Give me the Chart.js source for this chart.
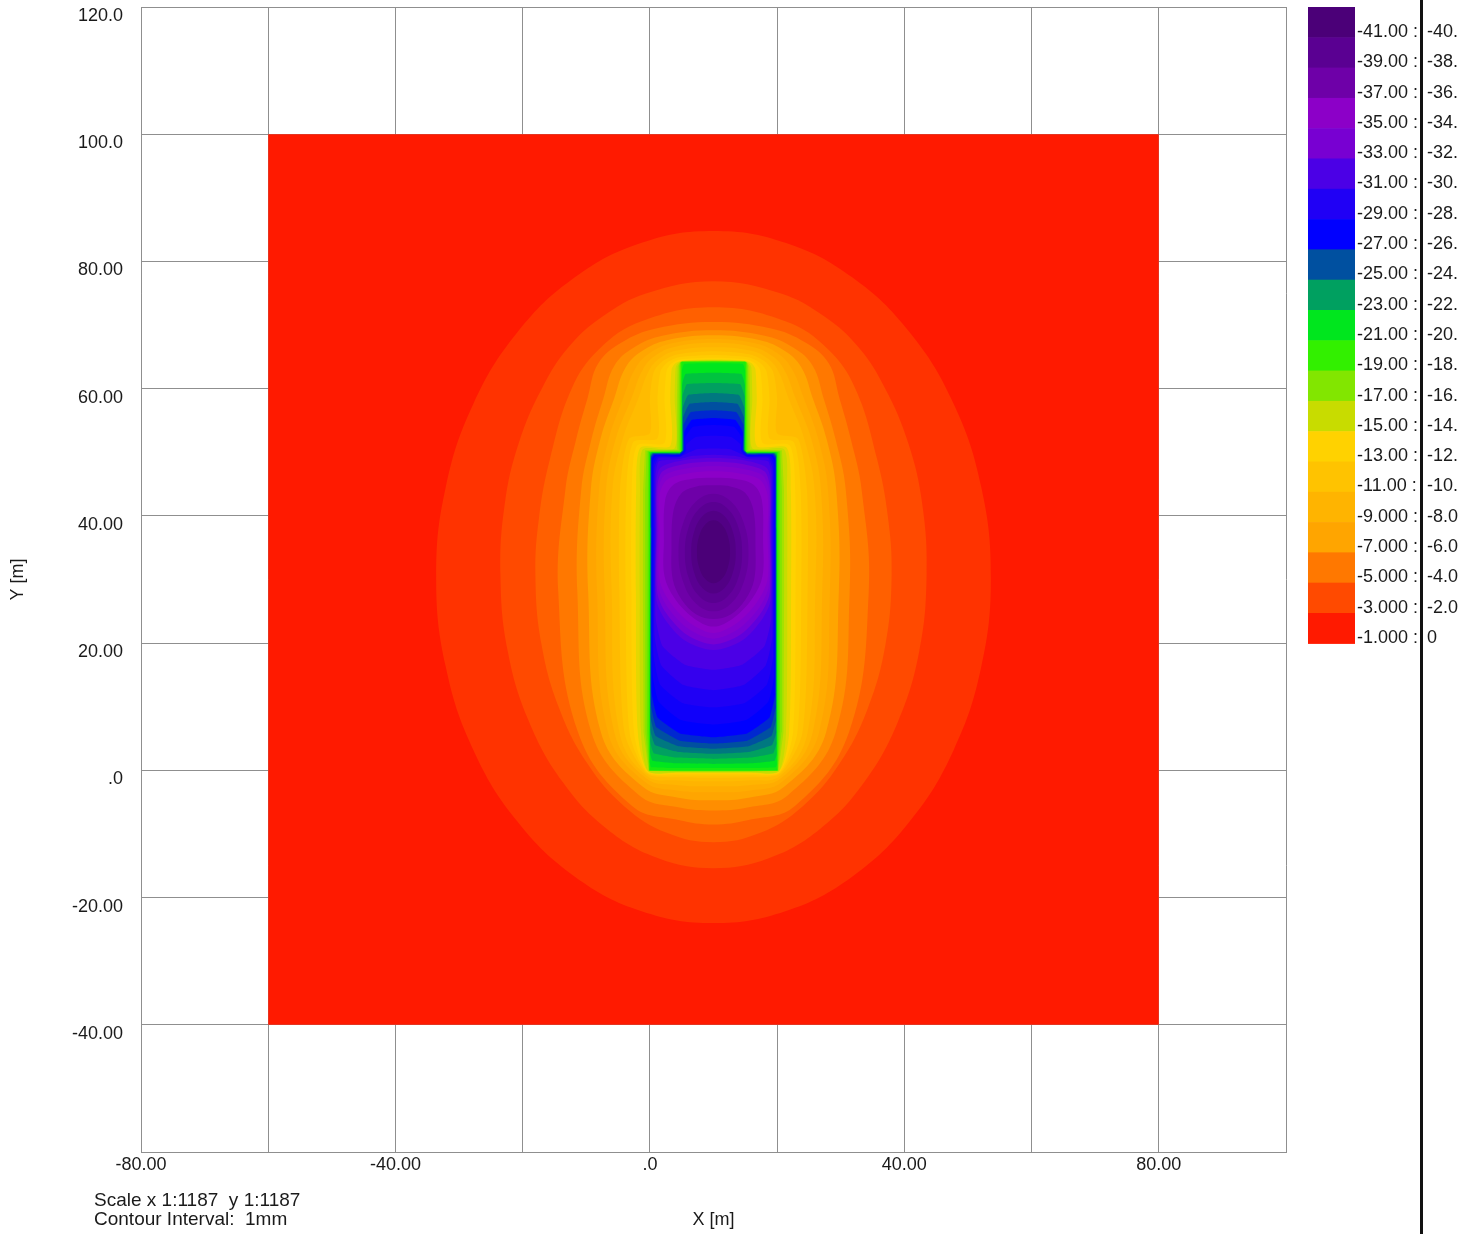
<!DOCTYPE html>
<html><head><meta charset="utf-8">
<script src="https://cdn.jsdelivr.net/npm/chart.js@4/dist/chart.umd.min.js"></script>
<style>html,body{margin:0;padding:0;background:#fff;overflow:hidden}canvas{display:block}</style>
</head><body>
<canvas id="c" width="1458" height="1234"></canvas>
<script>
// ---- axes ----
const xTickValues = [-80,-60,-40,-20,0,20,40,60,80,100];
const xTickLabels = ['-80.00','','-40.00','','.0','','40.00','','80.00',''];
const yTickValues = [-60,-40,-20,0,20,40,60,80,100,120];
const yTickLabels = ['','-40.00','-20.00','.0','20.00','40.00','60.00','80.00','100.0','120.0'];

// ---- colour bands (band k = values between -(k-1) and -k mm) ----
const bandColors = ['#FF1A00','#FF3300','#FF4A00','#FF6000','#FF7800','#FF8E00','#FFA500','#FFAC00','#FFB400','#FFBB00',
  '#FFC300','#FFCB00','#FFD200','#E4D700','#C8DC00','#A5E100','#82E600','#5AEB00','#32F000','#19EB0F',
  '#00E61E','#00C33F','#00A060','#007880','#0050A0','#0028D0','#0000FF','#1000FA','#2000F5','#3500EE',
  '#4B00E6','#6000DC','#7800D2','#8200CD','#8C00C8','#7D00B8','#6E00A8','#64009D','#5A0092','#520085','#4B0078'];

// ---- legend ----
const legendColors = ['#4B0078','#5A0092','#6E00A8','#8C00C8','#7800D2','#4B00E6','#2000F5','#0000FF','#0050A0','#00A060',
  '#00E61E','#32F000','#82E600','#C8DC00','#FFD200','#FFC300','#FFB400','#FFA500','#FF7800','#FF4A00','#FF1A00'];
const legendLow = ['-41.00','-39.00','-37.00','-35.00','-33.00','-31.00','-29.00','-27.00','-25.00','-23.00',
  '-21.00','-19.00','-17.00','-15.00','-13.00','-11.00','-9.000','-7.000','-5.000','-3.000','-1.000'];
const legendHigh = ['-40.00','-38.00','-36.00','-34.00','-32.00','-30.00','-28.00','-26.00','-24.00','-22.00',
  '-20.00','-18.00','-16.00','-14.00','-12.00','-10.00','-8.000','-6.000','-4.000','-2.000','0'];
const noteLines = ['Scale x 1:1187  y 1:1187','Contour Interval:  1mm'];

// ---- model domain ----
const domain = [[-60,-40],[80,-40],[80,100],[-60,100],[-60,-40]];

// ---- contour lines (x, y in m), level -1 ... -40 mm ----
const contour_01 = [[53.6,30.4],[52.1,44.49],[47.76,57.6],[40.83,68.86],[31.8,77.51],[21.29,82.95],[10,84.8],[-1.29,82.95],[-11.8,77.51],[-20.83,68.86],[-27.76,57.6],[-32.1,44.49],[-33.6,30.4],[-32.1,16.31],[-27.76,3.2],[-20.83,-8.06],[-11.8,-16.71],[-1.29,-22.15],[10,-24.0],[21.29,-22.15],[31.8,-16.71],[40.83,-8.06],[47.76,3.2],[52.1,16.31],[53.6,30.4]];
const contour_02 = [[43.5,30.75],[42.8,42],[40.6,51.5],[37.0,60],[32.8,66.5],[27.5,71.3],[20.5,75.0],[10,76.9],[-0.5,75.0],[-7.5,71.3],[-12.8,66.5],[-17.0,60],[-20.6,51.5],[-22.8,42],[-23.5,30.75],[-22.36,18.8],[-19.01,7.67],[-13.68,-1.88],[-6.75,-9.22],[1.32,-13.83],[10,-15.4],[18.68,-13.83],[26.75,-9.22],[33.68,-1.88],[39.01,7.67],[42.36,18.8],[43.5,30.75]];
const contour_03 = [[38.0,30.75],[37.4,40],[35.7,49],[32.3,60],[28.0,66.2],[21.3,70.6],[10,72.8],[-1.3,70.6],[-8.0,66.2],[-12.3,60],[-15.7,49],[-17.4,40],[-18.0,30.75],[-17.05,19.86],[-14.25,9.72],[-9.8,1.02],[-4.0,-5.67],[2.75,-9.87],[10,-11.3],[17.25,-9.87],[24.0,-5.67],[29.8,1.02],[34.25,9.72],[37.05,19.86],[38.0,30.75]];
const contour_04 = [[34.4,28],[33.3,44],[31.6,52],[29.8,58.5],[28.11,63.98],[24.45,67.26],[19.05,69.47],[10,70.5],[0.95,69.47],[-4.45,67.26],[-8.11,63.98],[-9.8,58.5],[-11.6,52],[-13.3,44],[-14.4,28],[-11.3,6],[-2.8,-5.6],[4.5,-7.8],[10,-8.5],[15.5,-7.8],[22.8,-5.6],[31.3,6],[34.4,28]];
const contour_05 = [[31.4,28],[30.8,44],[29.2,52],[27.3,58.5],[25.61,63.56],[22.58,66.42],[18.04,68.32],[10,69.2],[1.96,68.32],[-2.58,66.42],[-5.61,63.56],[-7.3,58.5],[-9.2,52],[-10.8,44],[-11.4,28],[-9.2,6],[-1.7,-3.9],[4.5,-5.8],[10,-6.3],[15.5,-5.8],[21.7,-3.9],[29.2,6],[31.4,28]];
const contour_06 = [[29.7,28],[29.3,44],[27.8,52],[25.6,58.5],[23.82,63.33],[21.23,65.92],[17.32,67.62],[10,68.4],[2.68,67.62],[-1.23,65.92],[-3.82,63.33],[-5.6,58.5],[-7.8,52],[-9.3,44],[-9.7,28],[-7.7,6],[-1.1,-2.6],[4.5,-4.3],[10,-4.7],[15.5,-4.3],[21.1,-2.6],[27.7,6],[29.7,28]];
const contour_07 = [[28.3,28],[28.0,44],[26.5,52],[24.2,58.5],[22.29,63.17],[20.08,65.55],[16.68,67.09],[10,67.8],[3.32,67.09],[-0.08,65.55],[-2.29,63.17],[-4.2,58.5],[-6.5,52],[-8.0,44],[-8.3,28],[-6.6,6],[-0.8,-1.8],[4.5,-3.2],[10,-3.45],[15.5,-3.2],[20.8,-1.8],[26.6,6],[28.3,28]];
const contour_08 = [[27.1,28],[26.9,44],[25.4,52],[22.9,58.5],[21.12,62.99],[19.19,65.16],[16.19,66.56],[10,67.2],[3.81,66.56],[0.81,65.16],[-1.12,62.99],[-2.9,58.5],[-5.4,52],[-6.9,44],[-7.1,28],[-5.6,6],[-0.6,-1.25],[4.5,-2.33],[10,-2.5],[15.5,-2.33],[20.6,-1.25],[25.6,6],[27.1,28]];
const contour_09 = [[26.0,28],[25.9,44],[24.3,52],[21.8,58.5],[20.16,62.83],[18.51,64.75],[15.90,65.96],[10,66.5],[4.10,65.96],[1.49,64.75],[-0.16,62.83],[-1.8,58.5],[-4.3,52],[-5.9,44],[-6.0,28],[-4.8,6],[-0.5,-0.85],[4.5,-1.6],[10,-1.7],[15.5,-1.6],[20.5,-0.85],[24.8,6],[26.0,28]];
const contour_10 = [[24.8,28],[24.7,44],[23.3,52.1],[20.0,53.0],[20.0,58.5],[19.37,62.67],[17.94,64.38],[15.63,65.43],[10,65.9],[4.37,65.43],[2.06,64.38],[0.63,62.67],[0.0,58.5],[0.0,53.0],[-3.3,52.1],[-4.7,44],[-4.8,28],[-4.0,6],[-0.45,-0.55],[4.5,-1.1],[10,-1.15],[15.5,-1.1],[20.45,-0.55],[24.0,6],[24.8,28]];
const contour_11 = [[23.8,28],[23.7,44],[22.6,51.6],[18.8,52.2],[18.8,58.5],[18.33,62.72],[17.26,64.11],[15.46,64.94],[10,65.3],[4.54,64.94],[2.74,64.11],[1.67,62.72],[1.2,58.5],[1.2,52.2],[-2.6,51.6],[-3.7,44],[-3.8,28],[-3.2,6],[-0.4,-0.38],[4.5,-0.77],[10,-0.8],[15.5,-0.77],[20.4,-0.38],[23.2,6],[23.8,28]];
const contour_12 = [[22.9,28],[22.85,44],[22.0,51.05],[17.7,51.5],[17.7,58.5],[17.37,62.83],[16.60,63.94],[15.25,64.58],[10,64.85],[4.75,64.58],[3.40,63.94],[2.63,62.83],[2.3,58.5],[2.3,51.5],[-2.0,51.05],[-2.85,44],[-2.9,28],[-2.5,6],[-0.35,-0.26],[4.5,-0.53],[10,-0.55],[15.5,-0.53],[20.35,-0.26],[22.5,6],[22.9,28]];
const contour_13 = [[22.2,28],[22.15,44],[21.5,50.7],[16.8,51.0],[16.8,58.5],[16.58,63.08],[16.06,63.93],[15.10,64.40],[10,64.6],[4.90,64.40],[3.94,63.93],[3.42,63.08],[3.2,58.5],[3.2,51.0],[-1.5,50.7],[-2.15,44],[-2.2,28],[-1.9,6],[-0.3,-0.19],[4.5,-0.39],[10,-0.4],[15.5,-0.39],[20.3,-0.19],[21.9,6],[22.2,28]];
const contour_14 = [[21.6,28],[21.55,44],[21.1,50.46],[16.1,50.65],[16.1,58.5],[15.95,63.34],[15.59,64.0],[14.92,64.35],[10,64.5],[5.08,64.35],[4.41,64.0],[4.05,63.34],[3.9,58.5],[3.9,50.65],[-1.1,50.46],[-1.55,44],[-1.6,28],[-1.4,6],[-0.25,-0.14],[4.5,-0.29],[10,-0.3],[15.5,-0.29],[20.25,-0.14],[21.4,6],[21.6,28]];
const contour_15 = [[21.1,28],[21.08,44],[20.76,50.32],[15.75,50.45],[15.75,58.5],[15.64,63.48],[15.36,64.02],[14.84,64.30],[10,64.42],[5.16,64.30],[4.64,64.02],[4.36,63.48],[4.25,58.5],[4.25,50.45],[-0.76,50.32],[-1.08,44],[-1.1,28],[-1.0,6],[-0.2,-0.1],[4.5,-0.21],[10,-0.22],[15.5,-0.21],[20.2,-0.1],[21.0,6],[21.1,28]];
const contour_16 = [[20.75,28],[20.74,44],[20.52,50.21],[15.5,50.3],[15.5,58.5],[15.42,63.57],[15.24,64.07],[14.86,64.27],[10,64.35],[5.14,64.27],[4.76,64.07],[4.58,63.57],[4.5,58.5],[4.5,50.3],[-0.52,50.21],[-0.74,44],[-0.75,28],[-0.68,6],[-0.15,-0.07],[4.5,-0.145],[10,-0.15],[15.5,-0.145],[20.15,-0.07],[20.68,6],[20.75,28]];
const contour_17 = [[20.45,28],[20.44,44],[20.31,50.13],[15.3,50.18],[15.3,58.5],[15.27,63.97],[15.18,64.16],[15.0,64.25],[10,64.29],[5.0,64.25],[4.82,64.16],[4.73,63.97],[4.7,58.5],[4.7,50.18],[-0.31,50.13],[-0.44,44],[-0.45,28],[-0.41,6],[-0.1,-0.04],[4.5,-0.087],[10,-0.09],[15.5,-0.087],[20.1,-0.04],[20.41,6],[20.45,28]];
const contour_18 = [[20.2,28],[20.2,44],[20.14,50.06],[15.13,50.08],[15.13,58.5],[15.12,64.1],[15.08,64.18],[15.01,64.22],[10,64.24],[4.99,64.22],[4.92,64.18],[4.88,64.1],[4.87,58.5],[4.87,50.08],[-0.14,50.06],[-0.2,44],[-0.2,28],[-0.18,6],[-0.05,-0.02],[4.5,-0.039],[10,-0.04],[15.5,-0.039],[20.05,-0.02],[20.18,6],[20.2,28]];
const contour_19 = [[20.03,28],[20.03,44],[20.02,50.01],[15.02,50.02],[15.02,58.5],[15.01,64.21],[10,64.22],[4.99,64.21],[4.98,58.5],[4.98,50.02],[-0.02,50.01],[-0.03,44],[-0.03,28],[-0.02,6],[-0.01,-0.005],[4.5,-0.01],[10,-0.01],[15.5,-0.01],[20.01,-0.005],[20.02,6],[20.03,28]];
const contour_20 = [[19.97,38],[19.97,49.8],[19.8,49.97],[15.1,49.97],[14.97,50.2],[14.97,62.8],[14.6,63.9],[10,64.0],[5.4,63.9],[5.03,62.8],[5.03,50.2],[4.9,49.97],[0.2,49.97],[0.03,49.8],[0.03,38],[0.03,1.0],[0.2,0.5],[4,0.37],[10,0.35],[16,0.37],[19.8,0.5],[19.97,1.0],[19.97,38]];
const contour_21 = [[19.94,38],[19.94,49.7],[19.7,49.93],[15.2,49.93],[14.93,50.3],[14.93,60.6],[14.4,62.3],[10,62.5],[5.6,62.3],[5.07,60.6],[5.07,50.3],[4.8,49.93],[0.3,49.93],[0.06,49.7],[0.06,38],[0.06,2.6],[0.4,1.5],[4,1.1],[10,1.0],[16,1.1],[19.6,1.5],[19.94,2.6],[19.94,38]];
const contour_22 = [[19.9,38],[19.9,49.55],[19.6,49.88],[15.3,49.88],[14.88,50.3],[14.88,58.8],[14.2,60.7],[10,60.9],[5.8,60.7],[5.12,58.8],[5.12,50.3],[4.7,49.88],[0.4,49.88],[0.1,49.55],[0.1,38],[0.1,4.2],[0.6,2.7],[4.2,2.0],[10,1.8],[15.8,2.0],[19.4,2.7],[19.9,4.2],[19.9,38]];
const contour_23 = [[19.86,38],[19.86,49.45],[19.55,49.83],[15.3,49.83],[14.83,50.3],[14.83,57.0],[14.0,59.0],[10,59.3],[6.0,59.0],[5.17,57.0],[5.17,50.3],[4.7,49.83],[0.45,49.83],[0.14,49.45],[0.14,38],[0.14,6],[0.8,4.0],[4.4,2.9],[10,2.6],[15.6,2.9],[19.2,4.0],[19.86,6],[19.86,38]];
const contour_24 = [[19.82,38],[19.82,49.35],[19.5,49.78],[15.3,49.78],[14.78,50.3],[14.78,55.5],[13.8,57.6],[10,57.9],[6.2,57.6],[5.22,55.5],[5.22,50.3],[4.7,49.78],[0.5,49.78],[0.18,49.35],[0.18,38],[0.18,8],[0.9,5.4],[4.5,3.8],[10,3.4],[15.5,3.8],[19.1,5.4],[19.82,8],[19.82,38]];
const contour_25 = [[19.78,38],[19.78,49.2],[19.45,49.7],[15.3,49.7],[14.7,50.3],[14.7,54.3],[13.6,56.3],[10,56.6],[6.4,56.3],[5.3,54.3],[5.3,50.3],[4.7,49.7],[0.55,49.7],[0.22,49.2],[0.22,38],[0.22,10],[1.0,6.8],[4.6,4.7],[10,4.2],[15.4,4.7],[19.0,6.8],[19.78,10],[19.78,38]];
const contour_26 = [[19.7,38],[19.7,49.0],[19.3,49.6],[15.3,49.6],[14.6,50.3],[14.6,53.2],[13.4,55.1],[10,55.4],[6.6,55.1],[5.4,53.2],[5.4,50.3],[4.7,49.6],[0.7,49.6],[0.3,49.0],[0.3,38],[0.3,12],[1.2,8.3],[4.7,5.8],[10,5.2],[15.3,5.8],[18.8,8.3],[19.7,12],[19.7,38]];
const contour_27 = [[19.55,38],[19.55,48.6],[19.0,49.45],[15.3,49.45],[14.45,50.3],[14.45,52.3],[13.2,54.0],[10,54.3],[6.8,54.0],[5.55,52.3],[5.55,50.3],[4.7,49.45],[1.0,49.45],[0.45,48.6],[0.45,38],[0.45,15],[1.4,10.8],[4.9,7.9],[10,7.2],[15.1,7.9],[18.6,10.8],[19.55,15],[19.55,38]];
const contour_28 = [[19.4,38],[19.4,48],[18.8,49.3],[15.2,49.3],[14.3,50.2],[14.3,51.2],[12.8,52.4],[10,52.6],[7.2,52.4],[5.7,51.2],[5.7,50.2],[4.8,49.3],[1.2,49.3],[0.6,48],[0.6,38],[0.6,18],[1.6,13.5],[5.1,10.6],[10,9.9],[14.9,10.6],[18.4,13.5],[19.4,18],[19.4,38]];
const contour_29 = [[19.25,38],[19.25,47.5],[18.6,49.1],[15.5,49.2],[14.0,49.9],[12.5,50.5],[10,50.6],[7.5,50.5],[6.0,49.9],[4.5,49.2],[1.4,49.1],[0.75,47.5],[0.75,38],[0.75,21],[1.8,16.5],[5.3,13.4],[10,12.6],[14.7,13.4],[18.2,16.5],[19.25,21],[19.25,38]];
const contour_30 = [[19.1,38],[19.1,46.5],[18.6,48.6],[15.0,49.0],[13.5,49.4],[10,49.6],[6.5,49.4],[5.0,49.0],[1.4,48.6],[0.9,46.5],[0.9,38],[0.9,24],[2.0,19.5],[5.5,16.6],[10,15.8],[14.5,16.6],[18.0,19.5],[19.1,24],[19.1,38]];
const contour_31 = [[19.0,38],[19.0,45.0],[18.3,47.6],[14.5,48.8],[10,49.1],[5.5,48.8],[1.7,47.6],[1.0,45.0],[1.0,38],[1.0,27],[2.2,24.0],[5.5,20.4],[10,18.9],[14.5,20.4],[17.8,24.0],[19.0,27],[19.0,38]];
const contour_32 = [[18.85,38],[18.85,44.5],[18.0,47.0],[14.3,48.2],[10,48.5],[5.7,48.2],[2.0,47.0],[1.15,44.5],[1.15,38],[1.15,28],[2.5,24.8],[5.8,21.3],[10,19.8],[14.2,21.3],[17.5,24.8],[18.85,28],[18.85,38]];
const contour_33 = [[18.7,38],[18.7,44.0],[17.7,46.4],[14.1,47.5],[10,47.8],[5.9,47.5],[2.3,46.4],[1.3,44.0],[1.3,38],[1.3,29],[2.8,25.6],[6.1,22.2],[10,20.7],[13.9,22.2],[17.2,25.6],[18.7,29],[18.7,38]];
const contour_34 = [[18.5,37],[18.5,43.3],[17.3,45.7],[13.9,46.7],[10,47.0],[6.1,46.7],[2.7,45.7],[1.5,43.3],[1.5,37],[1.5,30],[3.2,26.4],[6.4,23.1],[10,21.6],[13.6,23.1],[16.8,26.4],[18.5,30],[18.5,37]];
const contour_35 = [[17.8,36],[17.6,42.5],[16.3,44.9],[13.5,45.8],[10,46.0],[6.5,45.8],[3.7,44.9],[2.4,42.5],[2.2,36],[2.3,30.5],[3.9,27.0],[6.8,24.0],[10,22.6],[13.2,24.0],[16.1,27.0],[17.7,30.5],[17.8,36]];
const contour_36 = [[16.6,35],[16.3,40.8],[15.0,43.6],[12.8,44.6],[10,44.8],[7.2,44.6],[5.0,43.6],[3.7,40.8],[3.4,35],[3.6,30],[5.0,26.8],[7.3,24.5],[10,23.8],[12.7,24.5],[15.0,26.8],[16.4,30],[16.6,35]];
const contour_37 = [[15.5,34.25],[14.76,38.88],[12.75,42.26],[10,43.5],[7.25,42.26],[5.24,38.88],[4.5,34.25],[5.24,29.62],[7.25,26.24],[10,25.0],[12.75,26.24],[14.76,29.62],[15.5,34.25]];
const contour_38 = [[14.5,34.25],[13.9,38.23],[12.25,41.13],[10,42.2],[7.75,41.13],[6.1,38.23],[5.5,34.25],[6.1,30.27],[7.75,27.37],[10,26.3],[12.25,27.37],[13.9,30.27],[14.5,34.25]];
const contour_39 = [[13.5,34.3],[13.03,37.55],[11.75,39.93],[10,40.8],[8.25,39.93],[6.97,37.55],[6.5,34.3],[6.97,31.05],[8.25,28.67],[10,27.8],[11.75,28.67],[13.03,31.05],[13.5,34.3]];
const contour_40 = [[12.6,34.35],[12.25,36.83],[11.3,38.64],[10,39.3],[8.7,38.64],[7.75,36.83],[7.4,34.35],[7.75,31.88],[8.7,30.06],[10,29.4],[11.3,30.06],[12.25,31.88],[12.6,34.35]];

const contours = [contour_01,contour_02,contour_03,contour_04,contour_05,contour_06,contour_07,contour_08,contour_09,contour_10,
  contour_11,contour_12,contour_13,contour_14,contour_15,contour_16,contour_17,contour_18,contour_19,contour_20,
  contour_21,contour_22,contour_23,contour_24,contour_25,contour_26,contour_27,contour_28,contour_29,contour_30,
  contour_31,contour_32,contour_33,contour_34,contour_35,contour_36,contour_37,contour_38,contour_39,contour_40];
const contourTension = [0.4,0.4,0.4,0.4,0.4,0.4,0.4,0.4,0.4,0.25,0.25,0.25,0.25,0.25,0,0,0,0,0,0.1,
  0.1,0.1,0.1,0.1,0.1,0.1,0.15,0.15,0.15,0.15,0.3,0.3,0.3,0.3,0.35,0.35,0.4,0.4,0.4,0.4];

// ---- build datasets (each closed outline is wrapped by one vertex on both ends so the spline closes smoothly) ----
const wrap = (pts) => [pts[pts.length - 2], ...pts, pts[1]];
const datasets = [{data: domain, backgroundColor: bandColors[0], borderColor:'rgba(0,0,0,0)', borderWidth:0,
  fill:'shape', pointRadius:0, tension:0, order:1000}];
contours.forEach((pts, i) => datasets.push({
  data: wrap(pts), backgroundColor: bandColors[i+1], borderColor:'rgba(0,0,0,0)', borderWidth:0,
  fill:'shape', pointRadius:0, tension: contourTension[i], order: 900 - i
}));

const FONT = '"Liberation Sans", Arial, Helvetica, sans-serif';
const TXT = '#1a1a1a';
const GRID = '#8f8f8f';

const overlay = {
  id:'overlay',
  afterDraw(chart){
    const ctx = chart.ctx;
    ctx.save();
    const bx = 1308, bw = 47, by = 7, bh = 30.3;
    legendColors.forEach((c,i)=>{ ctx.fillStyle = c; ctx.fillRect(bx, by + i*bh, bw, bh + 0.6); });
    ctx.font = '18px ' + FONT;
    ctx.fillStyle = TXT; ctx.textBaseline = 'middle'; ctx.textAlign = 'left';
    legendLow.forEach((t,i)=>{
      const y = by + i*bh + 25;
      ctx.fillText(t + ' :', 1357, y);
      ctx.fillText(legendHigh[i], 1427, y);
    });
    ctx.fillStyle = '#111'; ctx.fillRect(1420, 0, 3, 1234);
    ctx.fillStyle = TXT;
    ctx.font = '19px ' + FONT;
    ctx.fillText(noteLines[0], 94, 1201);
    ctx.fillText(noteLines[1], 94, 1220);
    ctx.restore();
  }
};

new Chart(document.getElementById('c'), {
  type:'line',
  data:{datasets},
  plugins:[overlay],
  options:{
    responsive:false, animation:false, devicePixelRatio:1,
    events:[],
    layout:{padding:{top:7, right:172, left:0, bottom:0}},
    plugins:{legend:{display:false}, tooltip:{enabled:false}, filler:{propagate:false}},
    scales:{
      x:{type:'linear', min:-80, max:100, z:1,
        afterBuildTicks:(s)=>{ s.ticks = xTickValues.map(v=>({value:v})); },
        afterFit:(s)=>{ s.height = 82; s.paddingLeft = 0; s.paddingRight = 0; },
        ticks:{autoSkip:false, maxRotation:0, padding:2, color:TXT, font:{family:FONT, size:18},
          callback:(v)=> xTickLabels[xTickValues.indexOf(v)]},
        grid:{color:GRID, lineWidth:1, drawTicks:false},
        border:{color:GRID, width:1},
        title:{display:true, text:'X [m]', color:TXT, font:{family:FONT, size:18}, padding:{top:0, bottom:3}}
      },
      y:{type:'linear', min:-60, max:120, z:1,
        afterBuildTicks:(s)=>{ s.ticks = yTickValues.map(v=>({value:v})); },
        afterFit:(s)=>{ s.width = 141; s.paddingTop = 0; s.paddingBottom = 0; },
        ticks:{autoSkip:false, padding:18, labelOffset:9, color:TXT, font:{family:FONT, size:18},
          callback:(v)=> yTickLabels[yTickValues.indexOf(v)]},
        grid:{color:GRID, lineWidth:1, drawTicks:false},
        border:{color:GRID, width:1},
        title:{display:true, text:'Y [m]', color:TXT, font:{family:FONT, size:18}, padding:{top:7, bottom:0}}
      }
    }
  }
});
</script>
</body></html>
